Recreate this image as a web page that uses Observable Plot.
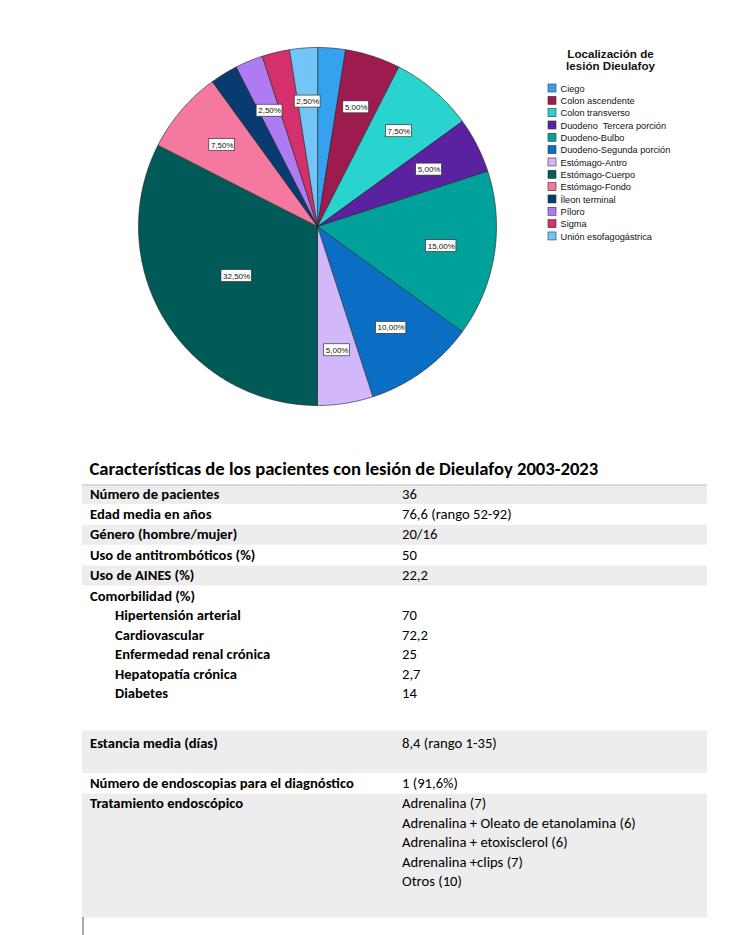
<!DOCTYPE html>
<html><head><meta charset="utf-8">
<script src="https://cdn.jsdelivr.net/npm/d3@7"></script>
<script src="https://cdn.jsdelivr.net/npm/@observablehq/plot@0.6"></script>
<style>body{margin:0;background:#fff} #chart svg{display:block}</style>
</head><body><div id="chart"></div>
<script>
// ---------- DATA ----------
const categories = ["Ciego","Colon ascendente","Colon transverso","Duodeno\u00a0 Tercera porción","Duodeno-Bulbo","Duodeno-Segunda porción","Estómago-Antro","Estómago-Cuerpo","Estómago-Fondo","Íleon terminal","Píloro","Sigma","Unión esofagogástrica"];
const percents = [2.5,5,7.5,5,15,10,5,32.5,7.5,2.5,2.5,2.5,2.5];
const colors = ["#35A2EF","#9D1B4E","#29D3CE","#5A22A0","#00A09B","#0A6EC4","#D2B7FA","#005B58","#F5789F","#083B70","#AF7BF2","#D4306B","#73C5F7"];
const unlabeled = ["Ciego","Íleon terminal","Sigma"];
const legendTitle = ["Localización de","lesión Dieulafoy"];
const tableTitle = "Características de los pacientes con lesión de Dieulafoy 2003-2023";
const rowLabels = ["Número de pacientes","Edad media en años","Género (hombre/mujer)","Uso de antitrombóticos (%)","Uso de AINES (%)","Comorbilidad (%)","Hipertensión arterial","Cardiovascular","Enfermedad renal crónica","Hepatopatía crónica","Diabetes","Estancia media (días)","Número de endoscopias para el diagnóstico","Tratamiento endoscópico"];
const rowValues = [["36"],["76,6 (rango 52-92)"],["20/16"],["50"],["22,2"],[],["70"],["72,2"],["25"],["2,7"],["14"],["8,4 (rango 1-35)"],["1 (91,6%)"],["Adrenalina (7)","Adrenalina + Oleato de etanolamina (6)","Adrenalina + etoxisclerol (6)","Adrenalina +clips (7)","Otros (10)"]];
const subRows = ["Hipertensión arterial","Cardiovascular","Enfermedad renal crónica","Hepatopatía crónica","Diabetes"];
const shadedRows = ["Número de pacientes","Género (hombre/mujer)","Uso de AINES (%)","Estancia media (días)","Tratamiento endoscópico"];

// ---------- LAYOUT ----------
const W = 740, H = 935, cx = 317, cy = 226, R = 179;
const LF = "Liberation Sans, Arial, sans-serif";
const TF = "Carlito, Calibri, Lato, sans-serif";
const ctx = document.createElement("canvas").getContext("2d");
const tw = (s, f) => { ctx.font = f; return ctx.measureText(s).width; };

// pie geometry from data
const total = d3.sum(percents);
const arcs = d3.pie().sort(null).value(d => d)(percents);
const slicePts = [];
arcs.forEach((p, i) => {
  const cat = categories[i];
  slicePts.push({cat, x: cx, y: cy});
  const n = Math.max(4, Math.ceil((p.endAngle - p.startAngle) / 0.01));
  for (let k = 0; k <= n; k++) {
    const a = p.startAngle + (p.endAngle - p.startAngle) * k / n;
    slicePts.push({cat, x: cx + R * Math.sin(a), y: cy - R * Math.cos(a)});
  }
});
const LFS = 8;
const labels = arcs.map((p, i) => {
  const cat = categories[i];
  if (unlabeled.includes(cat)) return null;
  const share = p.data / total;
  const m = (p.startAngle + p.endAngle) / 2;
  const r = (share > 0.25 ? 0.53 : 0.7) * R;
  const text = p.data.toFixed(2).replace(".", ",") + "%";
  const w = tw(text, `${LFS}px ${LF}`);
  const x = cx + r * Math.sin(m), y = cy - r * Math.cos(m);
  return {text, x, y, x1: x - w / 2 - 1.6, x2: x + w / 2 + 1.6, y1: y - 6, y2: y + 6};
}).filter(d => d);

// legend
const legend = categories.map((c, i) => ({c, i}));
const LP = 12.33;

// table
const regSize = 234 / tw("Adrenalina + Oleato de etanolamina (6)", `100px ${TF}`) * 100;
const boldSize = 264 / tw("Número de endoscopias para el diagnóstico", `bold 100px ${TF}`) * 100;
const titleSize = 509 / tw(tableTitle, `bold 100px ${TF}`) * 100;
let cursor = 498;
const rows = rowLabels.map((lab, i) => {
  if (i > 0) {
    if (lab === "Estancia media (días)") cursor += 50;
    else if (lab === "Número de endoscopias para el diagnóstico") cursor += 40;
    else if (lab === "Tratamiento endoscópico") cursor += 20;
    else if (subRows.includes(lab)) cursor += 19.5;
    else cursor += 20.4;
  }
  return {lab, i, base: cursor, sub: subRows.includes(lab)};
});
const values = [];
rows.forEach(r => rowValues[r.i].forEach((v, k) => values.push({v, base: r.base + k * 19.5})));
const bands = rows.filter(r => shadedRows.includes(r.lab)).map(r => {
  const next = rows[r.i + 1];
  const top = r.lab === "Estancia media (días)" ? r.base - 17 : r.base - 14;
  const nv = rowValues[r.i].length;
  const bottom = next ? next.base - 14.5 : r.base + (nv - 1) * 19.5 + 32;
  return {top, bottom};
});

const chart = Plot.plot({
  width: W, height: H, margin: 0,
  x: {domain: [0, W], range: [0, W], axis: null},
  y: {domain: [0, H], range: [0, H], axis: null},
  color: {type: "ordinal", domain: categories, range: colors},
  style: {background: "#fff", overflow: "visible"},
  marks: [
    // pie
    Plot.line(slicePts, {x: "x", y: "y", z: "cat", fill: "cat", stroke: "#1e1e1e", strokeWidth: 0.6, curve: "linear-closed"}),
    Plot.rect(labels, {x1: "x1", x2: "x2", y1: "y1", y2: "y2", fill: "#fff", stroke: "#333", strokeWidth: 0.7}),
    Plot.text(labels, {x: "x", y: "y", text: "text", fontSize: LFS, fontFamily: LF, fill: "#111"}),
    // legend
    Plot.text(legendTitle, {x: 610, y: (d, i) => 54.2 + i * 11.9, text: d => d, fontSize: 11.6, fontWeight: "bold", fontFamily: LF, fill: "#111"}),
    Plot.rect(legend, {x1: 548, x2: 556, y1: d => 84 + d.i * LP, y2: d => 92 + d.i * LP, fill: "c", stroke: "#333", strokeWidth: 0.6}),
    Plot.text(legend, {x: 560, y: d => 88.2 + d.i * LP, text: "c", textAnchor: "start", fontSize: 9.2, fontFamily: LF, fill: "#111"}),
    // table
    Plot.rect(bands, {x1: 82, x2: 707, y1: "top", y2: "bottom", fill: "#EDEDED"}),
    Plot.ruleY([484.5], {x1: 82, x2: 707, stroke: "#C4C4C4", strokeWidth: 1}),
    Plot.ruleX([82.5], {y1: 917, y2: 935, stroke: "#555", strokeWidth: 1}),
    Plot.text([tableTitle], {x: 89, y: 474, text: d => d, textAnchor: "start", lineAnchor: "bottom", fontSize: titleSize, fontWeight: "bold", fontFamily: TF, fill: "#000"}),
    Plot.text(rows, {x: d => d.sub ? 114.5 : 89.5, y: "base", text: "lab", textAnchor: "start", lineAnchor: "bottom", fontSize: boldSize, fontWeight: "bold", fontFamily: TF, fill: "#000"}),
    Plot.text(values, {x: 401.5, y: "base", text: "v", textAnchor: "start", lineAnchor: "bottom", fontSize: regSize, fontFamily: TF, fill: "#000"})
  ]
});
document.getElementById("chart").appendChild(chart);
</script>
</body></html>
